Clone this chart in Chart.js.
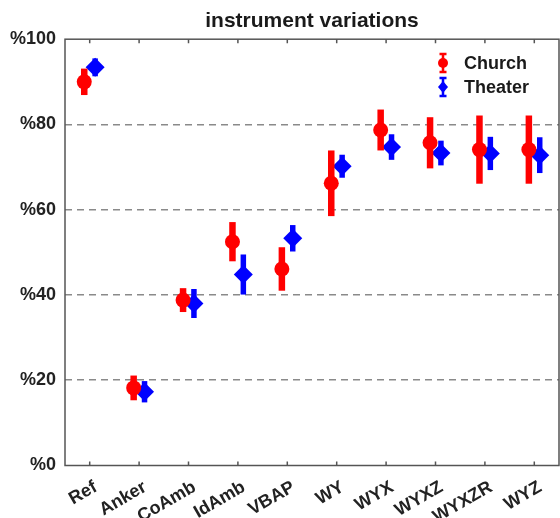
<!DOCTYPE html>
<html>
<head>
<meta charset="utf-8">
<script src="https://cdn.jsdelivr.net/npm/chart.js@4/dist/chart.umd.min.js"></script>
<style>
  html, body { margin: 0; padding: 0; background: #fff; }
  #wrap { width: 560px; height: 518px; }
</style>
</head>
<body>
<div id="wrap"><canvas id="grafico" width="560" height="518"></canvas></div>
<script>
// datos
const categorias = ['Ref', 'Anker', 'CoAmb', 'IdAmb', 'VBAP', 'WY', 'WYX', 'WYXZ', 'WYXZR', 'WYZ'];
const churchMedia = [90.0, 18.2, 38.8, 52.5, 46.1, 66.2, 78.7, 75.7, 74.1, 74.1];
const churchError = [3.1, 2.9, 2.8, 4.6, 5.1, 7.7, 4.8, 6.0, 8.0, 8.0];
const theaterMedia = [93.4, 17.3, 38.0, 44.8, 53.3, 70.2, 74.7, 73.3, 73.2, 72.8];
const theaterError = [2.1, 2.5, 3.4, 4.7, 3.1, 2.7, 3.0, 2.9, 3.9, 4.2];
const ticksY = [0, 20, 40, 60, 80, 100];

const fuente = "'Liberation Sans', Arial, sans-serif";
const desplaz = 0.11; // separacion entre series dentro de cada categoria

// barras de error, dibujadas antes de los marcadores de cada serie
const barrasError = {
    id: 'barrasError',
    beforeDatasetDraw(chart, args) {
        const ds = chart.data.datasets[args.index];
        const meta = args.meta;
        const y = chart.scales.y;
        const ctx = chart.ctx;
        ctx.save();
        ctx.strokeStyle = ds.borderColor;
        ctx.lineWidth = ds.anchoBarra;
        meta.data.forEach((pt, i) => {
            const v = ds.data[i].y;
            const e = ds.errores[i];
            const top = y.getPixelForValue(v + e);
            const bot = y.getPixelForValue(v - e);
            ctx.beginPath();
            ctx.moveTo(pt.x, top);
            ctx.lineTo(pt.x, bot);
            ctx.stroke();
        });
        ctx.restore();
    }
};

// centrar el titulo sobre el area del grafico
const tituloCentrado = {
    id: 'tituloCentrado',
    afterLayout(chart) {
        const t = chart.titleBlock;
        const a = chart.chartArea;
        if (t) {
            t.left = a.left;
            t.right = a.right;
            t.width = a.right - a.left;
        }
    }
};

// caja de ejes, marcas interiores y leyenda
const cajaYLeyenda = {
    id: 'cajaYLeyenda',
    afterDraw(chart) {
        const ctx = chart.ctx;
        const a = chart.chartArea;
        const x = chart.scales.x;
        ctx.save();
        ctx.strokeStyle = '#555';
        ctx.lineWidth = 1.5;
        ctx.strokeRect(a.left, a.top, a.right - a.left, a.bottom - a.top);
        ctx.beginPath();
        categorias.forEach((c, i) => {
            const px = x.getPixelForValue(i + 1);
            ctx.moveTo(px, a.bottom); ctx.lineTo(px, a.bottom - 4);
            ctx.moveTo(px, a.top); ctx.lineTo(px, a.top + 4);
        });
        ctx.stroke();

        // leyenda
        const lx = 443, ly = [63, 87];
        chart.data.datasets.forEach((ds, k) => {
            const cy = ly[k];
            ctx.strokeStyle = ds.borderColor;
            ctx.fillStyle = ds.backgroundColor;
            ctx.lineWidth = 2.5;
            ctx.beginPath();
            ctx.moveTo(lx, cy - 9); ctx.lineTo(lx, cy + 9);
            ctx.moveTo(lx - 3.5, cy - 9); ctx.lineTo(lx + 3.5, cy - 9);
            ctx.moveTo(lx - 3.5, cy + 9); ctx.lineTo(lx + 3.5, cy + 9);
            ctx.stroke();
            ctx.beginPath();
            if (ds.pointStyle === 'circle') {
                ctx.arc(lx, cy, 5, 0, Math.PI * 2);
            } else {
                ctx.moveTo(lx, cy - 6); ctx.lineTo(lx + 5, cy);
                ctx.lineTo(lx, cy + 6); ctx.lineTo(lx - 5, cy);
                ctx.closePath();
            }
            ctx.fill();
            ctx.fillStyle = '#1a1a1a';
            ctx.font = 'bold 18px ' + fuente;
            ctx.textBaseline = 'middle';
            ctx.textAlign = 'left';
            ctx.fillText(ds.label, 464, cy + 1);
        });
        ctx.restore();
    }
};

new Chart(document.getElementById('grafico').getContext('2d'), {
    type: 'scatter',
    data: {
        datasets: [{
            label: 'Church',
            data: churchMedia.map((v, i) => ({ x: i + 1 - desplaz, y: v })),
            errores: churchError,
            anchoBarra: 6.5,
            borderColor: '#ff0000',
            backgroundColor: '#ff0000',
            pointStyle: 'circle',
            pointRadius: 7.5,
            pointBorderWidth: 0
        }, {
            label: 'Theater',
            data: theaterMedia.map((v, i) => ({ x: i + 1 + desplaz, y: v })),
            errores: theaterError,
            anchoBarra: 5.5,
            borderColor: '#0000ff',
            backgroundColor: '#0000ff',
            pointStyle: 'rectRot',
            pointRadius: 9.5,
            pointBorderWidth: 0
        }]
    },
    options: {
        responsive: false,
        animation: false,
        layout: { autoPadding: false, padding: { left: 0, right: 1, top: 0, bottom: 0 } },
        plugins: {
            legend: { display: false },
            tooltip: { enabled: false },
            title: {
                display: true,
                text: 'instrument variations',
                color: '#1a1a1a',
                font: { family: fuente, size: 21, weight: 'bold' },
                padding: { top: 9, bottom: 5 }
            }
        },
        scales: {
            x: {
                type: 'linear',
                min: 0.5,
                max: 10.5,
                afterBuildTicks: s => { s.ticks = categorias.map((c, i) => ({ value: i + 1 })); },
                afterFit: s => { s.height = 52.5; s.paddingLeft = 0; s.paddingRight = 0; },
                grid: { display: false },
                border: { display: false },
                ticks: {
                    callback: v => categorias[v - 1] || '',
                    minRotation: 30,
                    maxRotation: 30,
                    labelOffset: 6,
                    padding: 3,
                    color: '#222',
                    font: { family: fuente, size: 18, weight: 'bold' }
                }
            },
            y: {
                min: 0,
                max: 100,
                afterBuildTicks: s => { s.ticks = ticksY.map(v => ({ value: v })); },
                afterFit: s => { s.width = 65; },
                grid: {
                    drawTicks: false,
                    lineWidth: 1.5,
                    color: c => (c.tick && (c.tick.value === 0 || c.tick.value === 100)) ? 'rgba(0,0,0,0)' : '#8a8a8a'
                },
                border: { display: false, dash: [7, 5] },
                ticks: {
                    callback: v => '%' + v,
                    padding: 9,
                    color: '#222',
                    font: { family: fuente, size: 18, weight: 'bold' }
                }
            }
        }
    },
    plugins: [barrasError, tituloCentrado, cajaYLeyenda]
});
</script>
</body>
</html>
